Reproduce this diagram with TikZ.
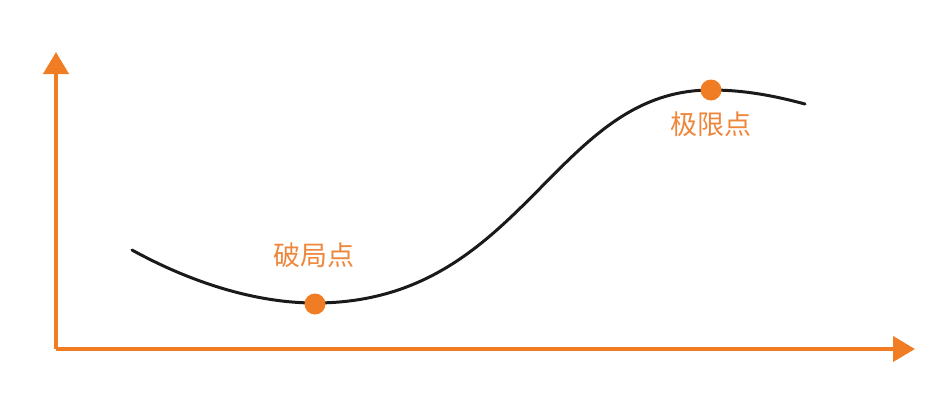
\documentclass[tikz,border=0pt]{standalone}
\usepackage{fontspec}
\newfontfamily\cjk{Noto Sans CJK SC}
\usetikzlibrary{arrows.meta}
\definecolor{axisor}{RGB}{240,125,35}
\definecolor{textor}{RGB}{238,135,60}
\definecolor{curveblk}{RGB}{26,26,26}
\tikzset{
  axisline/.style={draw=axisor,line width=4pt,-{Triangle[length=22pt,width=25pt]}},
  curveline/.style={draw=curveblk,line width=3pt,line cap=round},
  dotmark/.style={circle,fill=axisor,inner sep=0pt,minimum size=21pt},
  lbl/.style={font=\cjk\fontsize{27pt}{30pt}\selectfont,text=textor,inner sep=0pt}
}
\begin{document}
\begin{tikzpicture}[x=1pt,y=-1pt]
\useasboundingbox (0,0) rectangle (943,400);
\coordinate (origin) at (56,349);
\coordinate (ytip) at (56,52);
\coordinate (xtip) at (915,349);
\draw[axisline] (origin) -- (ytip);
\draw[axisline] (origin) -- (xtip);
\coordinate (cs) at (132,250);
\coordinate (cmin) at (315,303);
\coordinate (cmax) at (711,90);
\coordinate (ce) at (805,104);
\draw[curveline] (cs) .. controls (190,282) and (255,303) .. (cmin)
  .. controls (524,303) and (552.5,90) .. (cmax)
  .. controls (745,90) and (775,96) .. (ce);
\node[dotmark] (d1) at (315,304) {};
\node[dotmark] (d2) at (711,90) {};
\node[lbl] (t1) at (314,255) {破局点};
\node[lbl] (t2) at (711,124) {极限点};
\end{tikzpicture}
\end{document}
